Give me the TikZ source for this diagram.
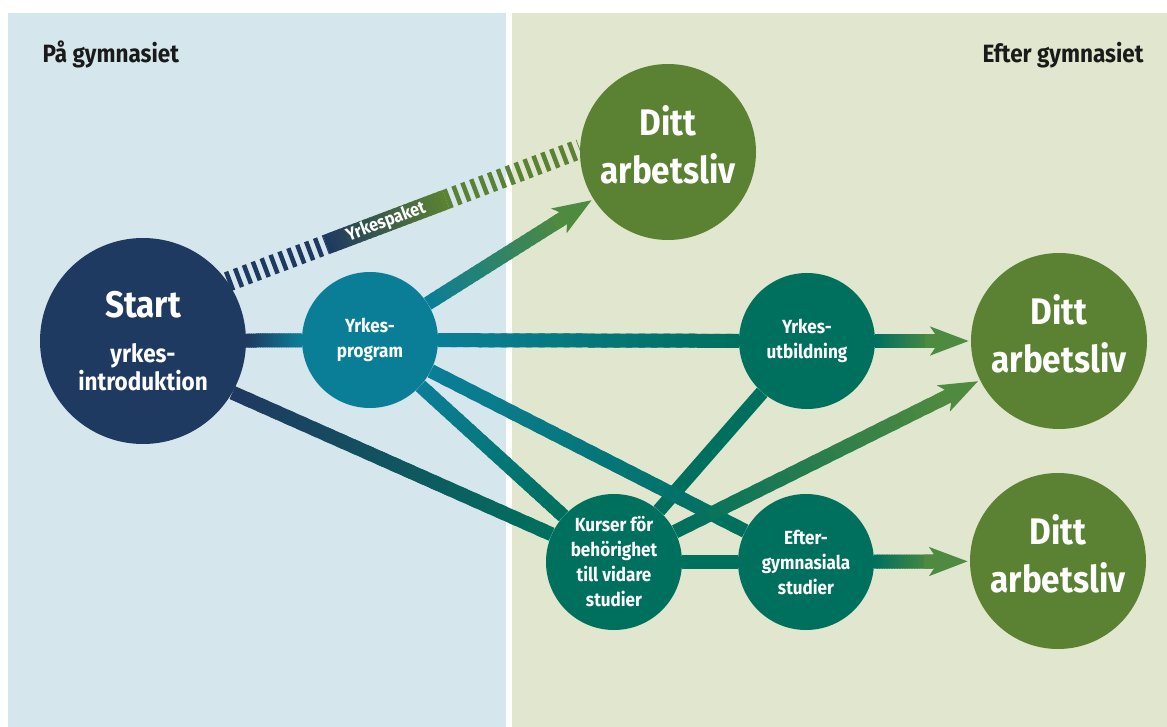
\documentclass[tikz,border=0pt]{standalone}
\usepackage{fontspec}
\setmainfont{Fira Sans}[FakeStretch=0.9]
\usetikzlibrary{arrows.meta,calc}

\definecolor{bgblue}{HTML}{D5E6ED}
\definecolor{bggreen}{HTML}{E1E7CE}
\definecolor{navy}{HTML}{1F3A60}
\definecolor{progteal}{HTML}{0B7E97}
\definecolor{deepgreen}{HTML}{00705E}
\definecolor{lifegreen}{HTML}{5A8232}
\definecolor{arrowgreen}{HTML}{4E8A3F}
\definecolor{headink}{HTML}{1A1A1A}

\pgfdeclarelayer{panels}
\pgfdeclarelayer{links}
\pgfsetlayers{panels,links,main}

\tikzset{
  roundbox/.style={circle, inner sep=0pt, text=white, align=center},
  bigdot/.style={roundbox, minimum size=206pt, font=\bfseries\fontsize{25}{28}\selectfont},
  middot/.style={roundbox, minimum size=136pt, font=\bfseries\fontsize{19}{25}\selectfont},
  lifedot/.style={roundbox, fill=lifegreen, minimum size=176pt, text depth=16pt,
    font=\bfseries\fontsize{37}{48}\selectfont},
  link/.style={line width=14pt},
  band/.style={line width=20pt},
  headed/.style={-{Stealth[length=38pt,width=28pt,inset=9pt]}, shorten >=2pt},
  heading/.style={font=\bfseries\fontsize{25}{30}\selectfont, text=headink},
}

% colour running from #4 to #5 between two coordinates
\newcommand{\fadeseg}[5][link]{%
  \foreach \k in {0,...,23}{
    \pgfmathsetmacro{\fs}{\k/24}
    \pgfmathsetmacro{\fe}{min(1,(\k+1.5)/24)}
    \pgfmathsetmacro{\fc}{100-100*\k/23}
    \draw[#1,#4!\fc!#5] ($(#2)!\fs!(#3)$) -- ($(#2)!\fe!(#3)$);
  }}
\newcommand{\fadeline}[4]{%
  \path (#1) -- (#2) coordinate[pos=0] (fa) coordinate[pos=1] (fb);
  \fadeseg{fa}{fb}{#3}{#4}}
\newcommand{\fadearrow}[4]{%
  \path (#1) -- (#2) coordinate[pos=0] (fa) coordinate[pos=1] (fb);
  \coordinate (fm) at ($(fb)!36pt!(fa)$);
  \fadeseg{fa}{fm}{#3}{#4}
  \draw[link,#4,headed] ($(fb)!46pt!(fa)$) -- (fb);}

\begin{document}
\begin{tikzpicture}[x=1pt,y=-1pt]
  \useasboundingbox (0,0) rectangle (1167,727);

  \begin{pgfonlayer}{panels}
    \fill[bgblue] (8,13) rectangle (506,727);
    \fill[bggreen] (512,13) rectangle (1167,727);
  \end{pgfonlayer}

  \node[heading, anchor=base west] (paa) at (39,63) {På gymnasiet};
  \node[heading, anchor=base east] (efterhead) at (1147,63) {Efter gymnasiet};

  % circles
  \node[bigdot, fill=navy] (start) at (143,341)
    {\fontsize{37}{37}\selectfont Start\\[17pt] yrkes-\\introduktion};
  \node[middot, fill=progteal] (prog) at (370,340) {Yrkes-\\program};
  \node[lifedot] (lifeA) at (668,152) {Ditt\\arbetsliv};
  \node[middot, fill=deepgreen] (utb) at (807,341) {Yrkes-\\utbildning};
  \node[lifedot] (lifeB) at (1059,341) {Ditt\\arbetsliv};
  \node[middot, fill=deepgreen] (kurs) at (614,562) {Kurser för\\behörighet\\till vidare\\studier};
  \node[middot, fill=deepgreen] (efter) at (806,562) {Efter-\\gymnasiala\\studier};
  \node[lifedot] (lifeC) at (1058,561) {Ditt\\arbetsliv};

  \begin{pgfonlayer}{links}
    % yrkespaket band
    \coordinate (bandA) at (start.35);
    \coordinate (bandB) at (lifeA.178);
    \coordinate (bandC) at ($(bandA)!0.28!(bandB)$);
    \coordinate (bandD) at ($(bandA)!0.62!(bandB)$);
    \draw[band, navy, dash pattern=on 4.5pt off 5pt] (bandA) -- (bandC);
    \fadeseg[band]{bandC}{bandD}{navy}{lifegreen}
    \draw[band, lifegreen, dash pattern=on 4.5pt off 5pt] (bandD) -- (bandB);
    \path (bandA) -- (bandB) node[pos=0.45, sloped, text=white,
      font=\bfseries\fontsize{18}{20}\selectfont] (paket) {Yrkespaket};

    \fadeline{start}{prog}{navy}{progteal}
    \fadeline{start.-30}{kurs}{navy}{deepgreen}
    \fadearrow{prog}{lifeA}{progteal}{arrowgreen}
    \fadeline{prog}{utb}{progteal}{deepgreen}
    \fadeline{prog}{kurs}{progteal}{deepgreen}
    \draw[link, deepgreen] (kurs) -- (utb);
    \fadeline{prog}{efter}{progteal}{deepgreen}
    \fadearrow{kurs}{lifeB}{deepgreen}{arrowgreen}
    \draw[link, deepgreen] (kurs) -- (efter);
    \fadearrow{utb}{lifeB}{deepgreen}{arrowgreen}
    \fadearrow{efter}{lifeC}{deepgreen}{arrowgreen}
  \end{pgfonlayer}
\end{tikzpicture}
\end{document}
